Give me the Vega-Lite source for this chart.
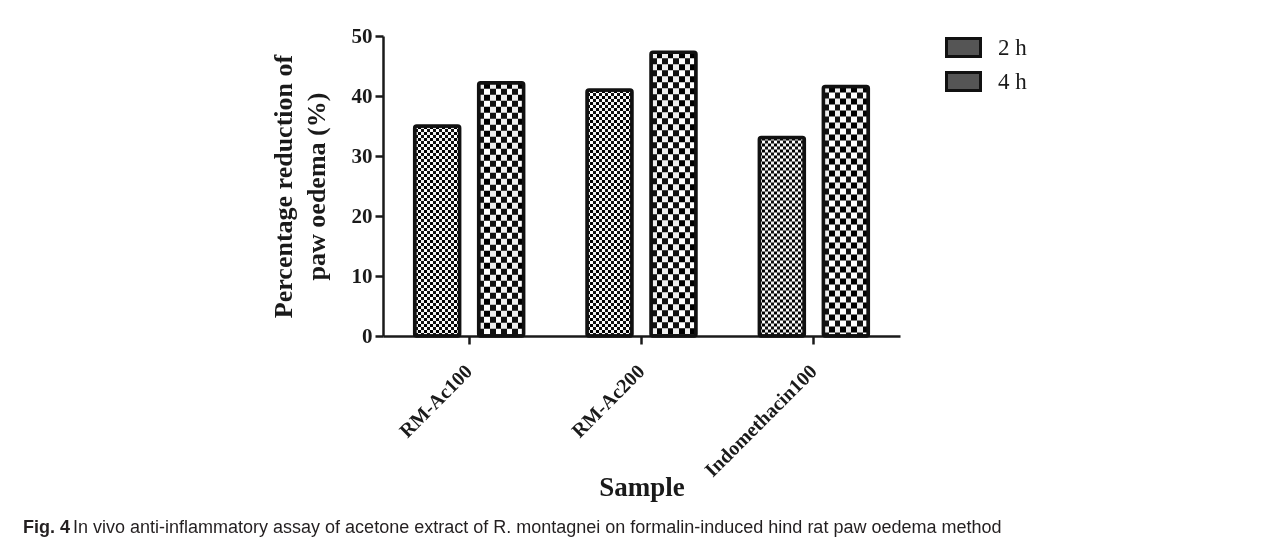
{
  "$schema": "https://vega.github.io/schema/vega-lite/v6.json",
  "width": 517,
  "height": 300,
  "autosize": {"type": "none"},
  "padding": {"left": 383, "top": 36, "right": 381, "bottom": 204},
  "background": "white",
  "data": {
    "values": [
      {"sample": "RM-Ac100", "series": "2 h", "value": 35.0},
      {"sample": "RM-Ac100", "series": "4 h", "value": 42.2},
      {"sample": "RM-Ac200", "series": "2 h", "value": 41.0},
      {"sample": "RM-Ac200", "series": "4 h", "value": 47.3},
      {"sample": "Indomethacin100", "series": "2 h", "value": 33.1},
      {"sample": "Indomethacin100", "series": "4 h", "value": 41.6}
    ]
  },
  "title": {
    "text": "Fig. 4",
    "subtitle": "\u200b\u00a0\u00a0\u00a0\u00a0\u00a0\u00a0\u00a0\u00a0\u00a0\u00a0In vivo anti-inflammatory assay of acetone extract of R. montagnei on formalin-induced hind rat paw oedema method",
    "orient": "bottom",
    "anchor": "start",
    "frame": "group",
    "dx": -360,
    "offset": 19,
    "font": "Liberation Sans",
    "fontSize": 18,
    "fontWeight": "bold",
    "color": "#231f20",
    "subtitleFont": "Liberation Sans",
    "subtitleFontSize": 18,
    "subtitleColor": "#231f20",
    "subtitlePadding": -18
  },
  "encoding": {
    "x": {
      "field": "sample",
      "type": "nominal",
      "sort": null,
      "scale": {"paddingInner": 0, "paddingOuter": 0},
      "axis": {
        "title": "Sample",
        "labelAngle": -45,
        "labelAlign": "right",
        "labelBaseline": "middle",
        "labelFontSize": 20,
        "labelPadding": 24,
        "tickSize": 8,
        "titleFontSize": 27,
        "titlePadding": -6
      }
    },
    "xOffset": {
      "field": "series",
      "type": "nominal",
      "scale": {"paddingInner": 0.297, "paddingOuter": 0.495}
    },
    "y": {
      "field": "value",
      "type": "quantitative",
      "scale": {"domain": [0, 50], "nice": false},
      "axis": {
        "title": ["Percentage reduction of", "paw oedema (%)"],
        "values": [0, 10, 20, 30, 40, 50],
        "labelFontSize": 21,
        "labelPadding": 3,
        "tickSize": 8,
        "titleFontSize": 26,
        "titleLineHeight": 33,
        "titlePadding": 22
      }
    }
  },
  "layer": [
    {
      "mark": {"type": "bar"},
      "encoding": {
        "fill": {
          "condition": {
            "test": "datum.series === '2 h'",
            "value": {"gradient": "linear", "x1": 0, "y1": 0, "x2": 1, "y2": 0, "stops": [
              {"offset": 0, "color": "#111"}, {"offset": 0.0667, "color": "#111"},
              {"offset": 0.0667, "color": "#fff"}, {"offset": 0.1333, "color": "#fff"},
              {"offset": 0.1333, "color": "#111"}, {"offset": 0.2, "color": "#111"},
              {"offset": 0.2, "color": "#fff"}, {"offset": 0.2667, "color": "#fff"},
              {"offset": 0.2667, "color": "#111"}, {"offset": 0.3333, "color": "#111"},
              {"offset": 0.3333, "color": "#fff"}, {"offset": 0.4, "color": "#fff"},
              {"offset": 0.4, "color": "#111"}, {"offset": 0.4667, "color": "#111"},
              {"offset": 0.4667, "color": "#fff"}, {"offset": 0.5333, "color": "#fff"},
              {"offset": 0.5333, "color": "#111"}, {"offset": 0.6, "color": "#111"},
              {"offset": 0.6, "color": "#fff"}, {"offset": 0.6667, "color": "#fff"},
              {"offset": 0.6667, "color": "#111"}, {"offset": 0.7333, "color": "#111"},
              {"offset": 0.7333, "color": "#fff"}, {"offset": 0.8, "color": "#fff"},
              {"offset": 0.8, "color": "#111"}, {"offset": 0.8667, "color": "#111"},
              {"offset": 0.8667, "color": "#fff"}, {"offset": 0.9333, "color": "#fff"},
              {"offset": 0.9333, "color": "#111"}, {"offset": 1, "color": "#111"}
            ]}
          },
          "value": {"gradient": "linear", "x1": 0, "y1": 0, "x2": 1, "y2": 0, "stops": [
            {"offset": 0, "color": "#111"}, {"offset": 0.125, "color": "#111"},
            {"offset": 0.125, "color": "#fff"}, {"offset": 0.25, "color": "#fff"},
            {"offset": 0.25, "color": "#111"}, {"offset": 0.375, "color": "#111"},
            {"offset": 0.375, "color": "#fff"}, {"offset": 0.5, "color": "#fff"},
            {"offset": 0.5, "color": "#111"}, {"offset": 0.625, "color": "#111"},
            {"offset": 0.625, "color": "#fff"}, {"offset": 0.75, "color": "#fff"},
            {"offset": 0.75, "color": "#111"}, {"offset": 0.875, "color": "#111"},
            {"offset": 0.875, "color": "#fff"}, {"offset": 1, "color": "#fff"}
          ]}
        }
      }
    },
    {
      "mark": {"type": "rule", "stroke": "#fff", "strokeWidth": 45, "blend": "difference"},
      "encoding": {
        "y2": {"datum": 0},
        "strokeDash": {
          "condition": {"test": "datum.series === '2 h'", "value": [3, 3]},
          "value": [6, 6]
        }
      }
    },
    {
      "mark": {"type": "bar", "color": "#555555", "fillOpacity": 0, "strokeWidth": 3.5, "cornerRadius": 2},
      "encoding": {
        "stroke": {
          "field": "series",
          "type": "nominal",
          "scale": {"domain": ["2 h", "4 h"], "range": ["#111", "#111"]},
          "legend": {
            "title": null,
            "orient": "none",
            "legendX": 562,
            "legendY": -7,
            "padding": 0,
            "symbolType": "M-1,-0.53H1V0.53H-1Z",
            "symbolSize": 1156,
            "symbolStrokeWidth": 3,
            "symbolOpacity": 1,
            "labelFont": "Liberation Serif",
            "labelFontSize": 23,
            "labelFontWeight": "normal",
            "labelColor": "#1a1a1a",
            "labelOffset": 16,
            "rowPadding": -4
          }
        }
      }
    }
  ],
  "config": {
    "view": {"stroke": null},
    "axis": {
      "grid": false,
      "domainColor": "#1a1a1a",
      "domainWidth": 2.5,
      "tickColor": "#1a1a1a",
      "tickWidth": 2.5,
      "labelFont": "Liberation Serif",
      "labelFontWeight": "bold",
      "labelColor": "#1a1a1a",
      "titleFont": "Liberation Serif",
      "titleFontWeight": "bold",
      "titleColor": "#1a1a1a"
    }
  }
}
